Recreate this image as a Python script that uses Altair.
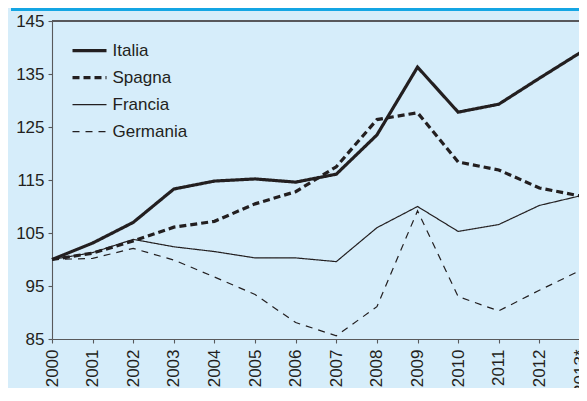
import altair as alt
import pandas as pd

years = list(range(2000, 2014))
series_names = ["Italia", "Spagna", "Francia", "Germania"]
italia = [100, 103.1, 107.0, 113.3, 114.8, 115.2, 114.6, 116.1, 123.5, 136.3, 127.8, 129.3, 134.2, 139.0]
spagna = [100, 101.2, 103.5, 106.1, 107.2, 110.5, 112.8, 117.5, 126.4, 127.7, 118.4, 116.9, 113.5, 112.0]
francia = [100, 101.3, 103.8, 102.4, 101.5, 100.3, 100.3, 99.6, 106.0, 110.0, 105.3, 106.6, 110.2, 112.0]
germania = [100, 100.2, 102.1, 99.9, 96.7, 93.4, 88.1, 85.6, 91.1, 109.2, 93.0, 90.3, 94.2, 97.9]
y_ticks = [85, 95, 105, 115, 125, 135, 145]

rows = []
for name, vals in zip(series_names, [italia, spagna, francia, germania]):
    for yr, v in zip(years, vals):
        rows.append({"anno": yr, "valore": v, "paese": name})
df = pd.DataFrame(rows)

INK = "#231f20"
AXIS = "#58595b"
BG = "#d6edfa"
RANGE_W = 528
PLOT_W = 527   # svg is 571 wide
PLOT_H = 318

legend_kw = dict(title=None, orient="none", legendX=18.5, legendY=16.4,
                 symbolType="stroke", symbolSize=1156,
                 clipHeight=26.6, rowPadding=0,
                 labelFontSize=17, labelColor=INK, labelOffset=4,
                 symbolStrokeColor=INK)

lines = alt.Chart(df).mark_line(color=INK, strokeJoin="miter", clip=False).encode(
    x=alt.X("anno:Q",
            scale=alt.Scale(domain=[2000, 2013], range=[0, RANGE_W], nice=False, zero=False),
            axis=alt.Axis(values=years, format="d",
                          labelExpr="datum.value == 2013 ? '2013*' : datum.label",
                          title=None, labelAngle=270, labelAlign="right", labelBaseline="middle",
                          labelPadding=6, tickSize=4, labelFlush=False, labelOverlap=False,
                          grid=False)),
    y=alt.Y("valore:Q",
            scale=alt.Scale(domain=[85, 145], nice=False, zero=False),
            axis=alt.Axis(values=y_ticks, title=None, tickSize=4, labelPadding=4, grid=False)),
    strokeDash=alt.StrokeDash("paese:N",
                              scale=alt.Scale(domain=series_names,
                                              range=[[1, 0], [7, 4], [1, 0], [7, 6]]),
                              legend=alt.Legend(**legend_kw)),
    strokeWidth=alt.StrokeWidth("paese:N",
                                scale=alt.Scale(type="ordinal", domain=series_names,
                                                range=[3.2, 3.2, 1.2, 1.2]),
                                legend=alt.Legend(**legend_kw)),
)

top_border = alt.Chart(df).mark_rule(color=AXIS, strokeWidth=1.3).encode(
    x=alt.value(0), x2=alt.value(RANGE_W), y=alt.value(0)
)
blue_line = alt.Chart(df).mark_rule(color="#14a5e3", strokeWidth=2.6).encode(
    x=alt.value(-41), x2=alt.value(RANGE_W), y=alt.value(-11.7)
)

chart = alt.layer(blue_line, top_border, lines).properties(
    width=PLOT_W, height=PLOT_H,
    autosize=alt.AutoSizeParams(type="none"),
    padding={"left": 44, "top": 13, "right": 0, "bottom": 49},
    background=BG,
).configure_view(strokeWidth=0).configure_axis(
    labelFont="Liberation Sans", labelFontSize=17, labelColor=INK,
    domainColor=AXIS, tickColor=AXIS, domainWidth=1.1, tickWidth=1.1,
).configure_legend(labelFont="Liberation Sans")

chart.save("out.html", embed_options={"renderer": "svg", "actions": False})
